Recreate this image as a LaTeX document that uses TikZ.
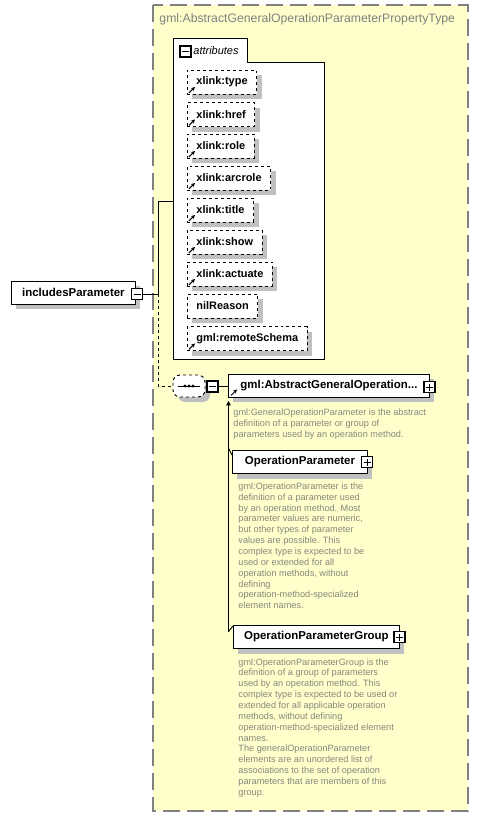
\documentclass[tikz,border=0pt]{standalone}
\usepackage{fontspec}
\setmainfont{Liberation Sans}
\usetikzlibrary{arrows.meta,positioning,shadows}

\definecolor{schemabg}{RGB}{255,255,204}
\definecolor{schemaframe}{RGB}{128,128,128}
\definecolor{doctext}{RGB}{135,135,125}
\definecolor{shadowgray}{RGB}{192,192,192}

\begin{document}
\begin{tikzpicture}[x=1bp,y=-1bp,line width=0.9bp,
    boxshadow/.style={drop shadow={shadow xshift=5bp,shadow yshift=-5bp,fill=shadowgray,opacity=1}},
    elembox/.style={draw=black,fill=white,boxshadow,font=\bfseries\fontsize{11.5}{13}\selectfont,
        minimum height=23bp,inner xsep=0pt,anchor=west},
    attrbox/.style={draw=black,dashed,fill=white,boxshadow,font=\bfseries\fontsize{11}{13}\selectfont,
        minimum height=24bp,inner xsep=9bp,anchor=west},
    togglebox/.style={draw=black,fill=white,minimum size=11bp,inner sep=0pt,line width=1.1bp},
    minusbox/.style={togglebox,path picture={\draw[line width=1bp]
        ([xshift=2bp]path picture bounding box.west) -- ([xshift=-2bp]path picture bounding box.east);}},
    plusbox/.style={togglebox,path picture={\draw[line width=1bp]
        ([xshift=2bp]path picture bounding box.west) -- ([xshift=-2bp]path picture bounding box.east)
        ([yshift=2bp]path picture bounding box.south) -- ([yshift=-2bp]path picture bounding box.north);}},
    doc/.style={align=left,anchor=north west,inner sep=0pt,text=doctext,font=\fontsize{9.2}{10.9}\selectfont},
    refarrow/.style={solid,-{Stealth[length=4bp,width=4bp]},line width=1bp}
]
    \useasboundingbox (0,0) rectangle (504,816);

    % complex type frame
    \draw[schemaframe,fill=schemabg,line width=1.2bp,dash pattern=on 17bp off 7bp] (153,5) rectangle (468,811);
    \node[anchor=west,inner sep=0pt,text=schemaframe,font=\fontsize{12.3}{14}\selectfont] (typename) at (159,19)
        {gml:AbstractGeneralOperationParameterPropertyType};

    % attributes group
    \draw[fill=white] (173,38) -- (247,38) -- (247,62) -- (324,62) -- (324,359) -- (173,359) -- cycle;
    \coordinate (grpin) at (173,201);
    \node[minusbox] (grpminus) at (185.5,51.5) {};
    \node[anchor=west,inner sep=0pt,font=\itshape\fontsize{11}{13}\selectfont] (grptitle) at (193,51) {attributes};

    \foreach \name/\yc/\ref [count=\i] in {xlink:type/82/1,xlink:href/114.5/1,xlink:role/146/1,
            xlink:arcrole/178/1,xlink:title/210/1,xlink:show/242/1,xlink:actuate/274/1,
            nilReason/306/0,gml:remoteSchema/338.5/1} {
        \node[attrbox] (attr\i) at (187,\yc) {\name};
        \ifnum\ref=1
            \draw[refarrow] ([shift={(2,-1.5)}]attr\i.south west) -- ([shift={(8,-7.5)}]attr\i.south west);
        \fi
    }

    % element
    \node[elembox,minimum width=124bp] (param) at (11,292.5) {includesParameter};
    \node[minusbox] (paramminus) at (137,294) {};
    \coordinate (fork) at (158,294);
    \draw (paramminus) -- (fork) -- (158,201) -- (grpin);

    % sequence compositor
    \node[draw=black,dashed,fill=white,boxshadow,rounded corners=7bp,minimum width=32bp,minimum height=22bp]
        (seq) at (189,386) {};
    \draw ([xshift=5bp]seq.west) -- ([xshift=-5bp]seq.east);
    \foreach \dx in {-4,0,4}
        \fill ([xshift=\dx bp]seq.center) circle (1.6);
    \node[minusbox] (seqminus) at (212.5,386.5) {};
    \draw[dashed] (fork) |- (seq.west);

    % choice element
    \node[elembox,minimum width=201bp] (general) at (228,385.5) {gml:AbstractGeneralOperation...};
    \node[plusbox] (generalplus) at (429.5,387) {};
    \draw (seqminus) -- (seqminus -| general.west);
    \draw[refarrow] ([shift={(3,-2)}]general.south west) -- ([shift={(9,-8)}]general.south west);
    \node[doc] (generaldoc) at (233,408.5) {gml:GeneralOperationParameter is the abstract\\
        definition of a parameter or group of\\parameters used by an operation method.};

    % substitution group members
    \node[elembox,minimum width=135bp] (opparam) at (232,462) {OperationParameter};
    \node[plusbox] (opparamplus) at (367,462) {};
    \node[doc] (opparamdoc) at (238,482.3) {gml:OperationParameter is the\\
        definition of a parameter used\\by an operation method. Most\\parameter values are numeric,\\
        but other types of parameter\\values are possible. This\\complex type is expected to be\\
        used or extended for all\\operation methods, without\\defining\\
        operation-method-specialized\\element names.};

    \node[elembox,minimum width=166bp] (opgroup) at (233,637) {OperationParameterGroup};
    \node[plusbox] (opgroupplus) at (399.5,637) {};
    \node[doc] (opgroupdoc) at (238,657.9) {gml:OperationParameterGroup is the\\
        definition of a group of parameters\\used by an operation method. This\\
        complex type is expected to be used or\\extended for all applicable operation\\
        methods, without defining\\operation-method-specialized element\\names.\\
        The generalOperationParameter\\elements are an unordered list of\\
        associations to the set of operation\\parameters that are members of this\\group.};

    \coordinate (subst) at (228.5,631.5);
    \draw[-{Triangle[length=4.5bp,width=4.5bp]}] (subst) -- ([yshift=-3.5bp]general.south west -| subst);
    \draw (subst) -- ([yshift=-1bp]opgroup.north west);
    \draw ([yshift=2bp]opparam.north west -| subst) -- ([yshift=-5bp]opparam.north west);
\end{tikzpicture}
\end{document}
